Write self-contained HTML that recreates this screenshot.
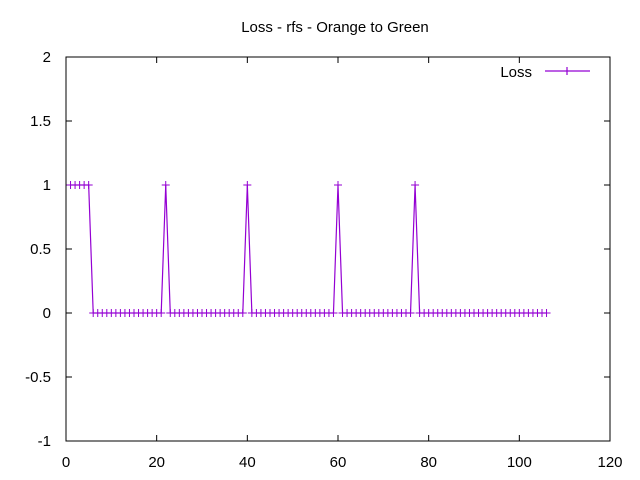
<!DOCTYPE html>
<html><head><meta charset="utf-8"><style>body{margin:0;background:#fff}svg{display:block;font-family:"Liberation Sans",sans-serif;font-size:15px}</style></head>
<body>
<svg id="chart" width="640" height="480"></svg>
<script>
const xValues = [1,2,3,4,5,6,7,8,9,10,11,12,13,14,15,16,17,18,19,20,21,22,23,24,25,26,27,28,29,30,31,32,33,34,35,36,37,38,39,40,41,42,43,44,45,46,47,48,49,50,51,52,53,54,55,56,57,58,59,60,61,62,63,64,65,66,67,68,69,70,71,72,73,74,75,76,77,78,79,80,81,82,83,84,85,86,87,88,89,90,91,92,93,94,95,96,97,98,99,100,101,102,103,104,105,106];
const lossValues = [1,1,1,1,1,0,0,0,0,0,0,0,0,0,0,0,0,0,0,0,0,1,0,0,0,0,0,0,0,0,0,0,0,0,0,0,0,0,0,1,0,0,0,0,0,0,0,0,0,0,0,0,0,0,0,0,0,0,0,1,0,0,0,0,0,0,0,0,0,0,0,0,0,0,0,0,1,0,0,0,0,0,0,0,0,0,0,0,0,0,0,0,0,0,0,0,0,0,0,0,0,0,0,0,0,0];
const xTicks = [0,20,40,60,80,100,120];
const yTicks = [-1,-0.5,0,0.5,1,1.5,2];
const yTickLabels = ["-1","-0.5","0","0.5","1","1.5","2"];

const svg = document.getElementById('chart');
const NS = 'http://www.w3.org/2000/svg';
const L=66,R=610,T=57,B=441;
const sx = v => L + (v-0)/(120-0)*(R-L);
const sy = v => B - (v-(-1))/(2-(-1))*(B-T);
function mk(tag, attrs, parent){const e=document.createElementNS(NS,tag);for(const k in attrs)e.setAttribute(k,attrs[k]);(parent||svg).appendChild(e);return e;}

const frame = mk('rect',{x:L,y:T,width:R-L,height:B-T,fill:'none',stroke:'#000','stroke-width':1});



xTicks.forEach(t=>{
  const x=sx(t);
  const tk=mk('path',{d:`M${x},${B}v-6M${x},${T}v6`,stroke:'#000'});
  
  
  const lb=mk('text',{x:x,y:467,'text-anchor':'middle'});
  lb.textContent=String(t);
  
  
});
yTicks.forEach((t,i)=>{
  const y=sy(t);
  const tk=mk('path',{d:`M${L},${y}h6M${R},${y}h-6`,stroke:'#000'});
  
  
  const lb=mk('text',{x:51,y:y+5,'text-anchor':'end'});
  lb.textContent=yTickLabels[i];
  
  
});

const title=mk('text',{x:335,y:32,'text-anchor':'middle'});
title.textContent='Loss - rfs - Orange to Green';



const col='#9400d3';
const pts=xValues.map((x,i)=>`${sx(x)},${sy(lossValues[i])}`).join(' ');
const line=mk('polyline',{points:pts,fill:'none',stroke:col,'stroke-width':1.2});


xValues.forEach((x,i)=>{
  const cx=sx(x),cy=sy(lossValues[i]);
  const p=mk('path',{d:`M${cx-4},${cy}h8M${cx},${cy-4}v8`,stroke:col,'stroke-width':1});
  
  
});

const lt=mk('text',{x:532,y:77,'text-anchor':'end'});
lt.textContent='Loss';


const ll=mk('path',{d:'M545,71h45M567,67v8',stroke:col,'stroke-width':1.2});


</script>
</body></html>
